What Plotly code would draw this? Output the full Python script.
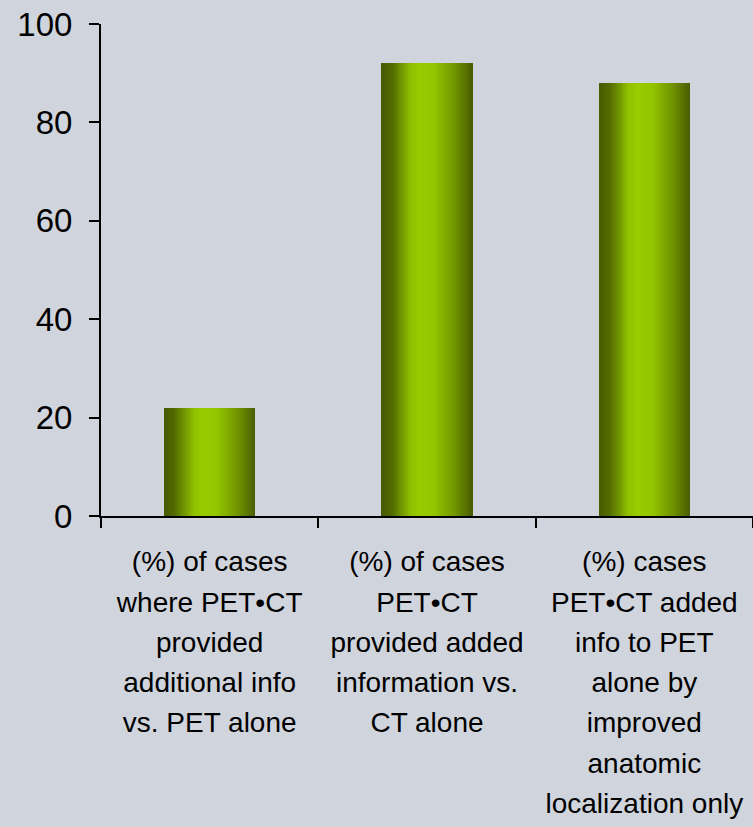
import plotly.graph_objects as go

categories = ["cat1", "cat2", "cat3"]
values = [22, 92, 88]
tick_labels = [
    ["(%) of cases", "where PET•CT", "provided", "additional info", "vs. PET alone"],
    ["(%) of cases", "PET•CT", "provided added", "information vs.", "CT alone"],
    ["(%) cases", "PET•CT added", "info to PET", "alone by", "improved", "anatomic", "localization only"],
]
y_ticks = [0, 20, 40, 60, 80, 100]

BG = "#D0D4DC"
dark = (66, 84, 0)
bright = (153, 204, 0)

# horizontal shading profile across bar width (position, mix toward bright)
stops = [(0.0, 0.05), (0.12, 0.2), (0.32, 0.9), (0.42, 1.0), (0.58, 0.95), (0.8, 0.55), (1.0, 0.08)]


def profile(t):
    for (t0, v0), (t1, v1) in zip(stops[:-1], stops[1:]):
        if t0 <= t <= t1:
            f = (t - t0) / (t1 - t0)
            return v0 + (v1 - v0) * f
    return stops[-1][1]


def col(m):
    r = int(dark[0] + (bright[0] - dark[0]) * m)
    g = int(dark[1] + (bright[1] - dark[1]) * m)
    b = int(dark[2] + (bright[2] - dark[2]) * m)
    return f"rgb({r},{g},{b})"


fig = go.Figure()
W = 0.42
N = 48
step = W / N
for i in range(N):
    t = (i + 0.5) / N
    w = step * 1.6 if i < N - 1 else step
    fig.add_trace(go.Bar(
        x=categories, y=values,
        width=w, offset=-W / 2 + i * step,
        marker=dict(color=col(profile(t)), line=dict(width=0)),
        hoverinfo="skip", showlegend=False,
    ))

line_sp_font = 31
glyph_font = 28
ticktext = ["<br>".join(f"<span style='font-size:{glyph_font}px'>{s}</span>" for s in lines)
            for lines in tick_labels]

fig.update_layout(
    width=753, height=827,
    margin=dict(l=101, r=0, t=24, b=311, pad=0),
    paper_bgcolor=BG, plot_bgcolor=BG,
    barmode="overlay",
    bargap=0,
    font=dict(family="Liberation Sans, Arial, sans-serif", color="#000000"),
    xaxis=dict(
        type="category",
        tickmode="array", tickvals=categories, ticktext=ticktext,
        tickson="boundaries",
        ticks="outside", ticklen=10, tickwidth=2, tickcolor="#000",
        showline=True, linecolor="#000", linewidth=2,
        showgrid=False, zeroline=False,
        tickfont=dict(size=line_sp_font, color="#000"),
        range=[-0.5, 2.5],
        ticklabelstandoff=16,
    ),
    yaxis=dict(
        range=[0, 100],
        tickmode="array", tickvals=y_ticks,
        ticks="outside", ticklen=10, tickwidth=2, tickcolor="#000",
        showline=True, linecolor="#000", linewidth=2,
        showgrid=False, zeroline=False,
        tickfont=dict(size=33, color="#000"),
        ticklabelstandoff=10,
    ),
)

fig.write_html(
    "out.html",
    config={"displayModeBar": False},
    post_script="document.body.style.margin='0';document.body.style.background='" + BG + "';",
)
